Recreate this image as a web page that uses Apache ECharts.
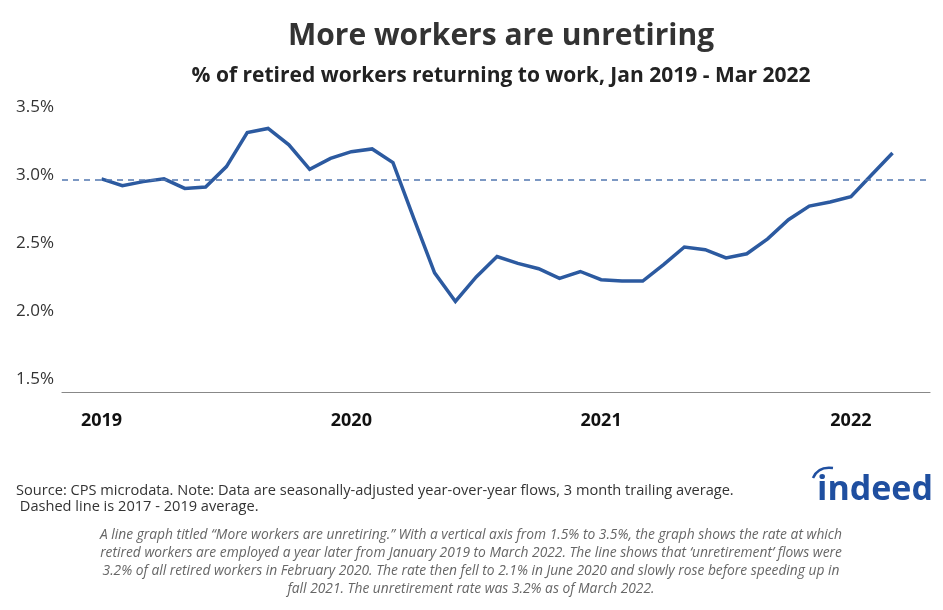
<!DOCTYPE html>
<html>
<head>
<meta charset="utf-8">
<script src="https://cdn.jsdelivr.net/npm/echarts@6/dist/echarts.min.js"></script>
<style>html,body{margin:0;padding:0;background:#fff}#c{width:943px;height:610px}</style>
</head>
<body>
<div id="c"></div>
<script>
// Monthly values, Jan 2019 - Mar 2022 (% of retired workers returning to work)
const values2019 = [2.97, 2.92, 2.95, 2.97, 2.90, 2.91, 3.06, 3.31, 3.34, 3.22, 3.04, 3.12];
const values2020 = [3.17, 3.19, 3.09, 2.68, 2.28, 2.07, 2.25, 2.40, 2.35, 2.31, 2.24, 2.29];
const values2021 = [2.23, 2.22, 2.22, 2.34, 2.47, 2.45, 2.39, 2.42, 2.53, 2.67, 2.77, 2.80];
const values2022 = [2.84, 3.00, 3.16];
const averageLine = 2.96; // 2017 - 2019 average
const yearLabels = ['2019', '2020', '2021', '2022'];
const yearTickMonths = [0, 12, 24, 36];
const yTickValues = [1.5, 2.0, 2.5, 3.0, 3.5];

const allValues = values2019.concat(values2020, values2021, values2022);
const seriesData = allValues.map((v, i) => [i, v]);

const FONT = 'Open Sans';
const chart = echarts.init(document.getElementById('c'));
chart.setOption({
  backgroundColor: '#ffffff',
  animation: false,
  title: [
    { text: 'More workers are unretiring', left: 496, textAlign: 'center', top: 16,
      textStyle: { fontFamily: FONT, fontSize: 30, fontWeight: 'bold', color: '#333333' } },
    { text: '% of retired workers returning to work, Jan 2019 - Mar 2022', left: 496, textAlign: 'center', top: 61,
      textStyle: { fontFamily: FONT, fontSize: 21, fontWeight: 'bold', color: '#222222' } }
  ],
  grid: { left: 62, right: 13, top: 106.7, bottom: 217.3, containLabel: false },
  xAxis: {
    type: 'value', min: -1.9, max: 39.8,
    axisLine: { show: true, lineStyle: { color: '#888888', width: 1.2 } },
    axisTick: { show: false },
    splitLine: { show: false },
    axisLabel: {
      customValues: yearTickMonths,
      formatter: v => yearLabels[yearTickMonths.indexOf(Math.round(v))] || '',
      margin: 19, fontFamily: FONT, fontSize: 18, fontWeight: 'bold', color: '#111111'
    }
  },
  yAxis: {
    type: 'value', min: 1.4, max: 3.5,
    axisLine: { show: false }, axisTick: { show: false }, splitLine: { show: false },
    axisLabel: {
      customValues: yTickValues,
      formatter: v => v.toFixed(1) + '%',
      margin: 8, fontFamily: FONT, fontSize: 17, color: '#333333'
    }
  },
  series: [{
    type: 'line', data: seriesData, showSymbol: false, symbol: 'none',
    lineStyle: { color: '#2c5aa0', width: 3.5, join: 'miter' },
    markLine: {
      silent: true, symbol: 'none', label: { show: false },
      lineStyle: { color: '#5277b0', type: [6, 5], width: 1.6 },
      data: [{ yAxis: averageLine }]
    }
  }],
  graphic: [
    { type: 'text', x: 16, y: 491, style: { text: 'Source: CPS microdata. Note: Data are seasonally-adjusted year-over-year flows, 3 month trailing average.', font: '14.6px "Open Sans"', fill: '#333333', verticalAlign: 'middle' } },
    { type: 'text', x: 16, y: 507, style: { text: ' Dashed line is 2017 - 2019 average.', font: '14.6px "Open Sans"', fill: '#333333', verticalAlign: 'middle' } },
    { type: 'text', x: 471, y: 535, style: { text: 'A line graph titled \u201cMore workers are unretiring.\u201d With a vertical axis from 1.5% to 3.5%, the graph shows the rate at which', font: 'italic 13.8px "Open Sans"', fill: '#666666', align: 'center', verticalAlign: 'middle' } },
    { type: 'text', x: 471, y: 553, style: { text: 'retired workers are employed a year later from January 2019 to March 2022. The line shows that \u2018unretirement\u2019 flows were', font: 'italic 13.8px "Open Sans"', fill: '#666666', align: 'center', verticalAlign: 'middle' } },
    { type: 'text', x: 471, y: 571, style: { text: '3.2% of all retired workers in February 2020. The rate then fell to 2.1% in June 2020 and slowly rose before speeding up in', font: 'italic 13.8px "Open Sans"', fill: '#666666', align: 'center', verticalAlign: 'middle' } },
    { type: 'text', x: 471, y: 589, style: { text: 'fall 2021. The unretirement rate was 3.2% as of March 2022.', font: 'italic 13.8px "Open Sans"', fill: '#666666', align: 'center', verticalAlign: 'middle' } },
    { type: 'text', x: 875, y: 490, style: { text: 'indeed', font: 'bold 34px "Open Sans"', fill: '#1f4fa0', align: 'center', verticalAlign: 'middle' } },
    { type: 'bezierCurve', shape: { x1: 813, y1: 478, cpx1: 818, cpy1: 466, x2: 833, y2: 468 }, style: { stroke: '#1f4fa0', lineWidth: 2.5, fill: null } }
  ]
});
</script>
</body>
</html>
